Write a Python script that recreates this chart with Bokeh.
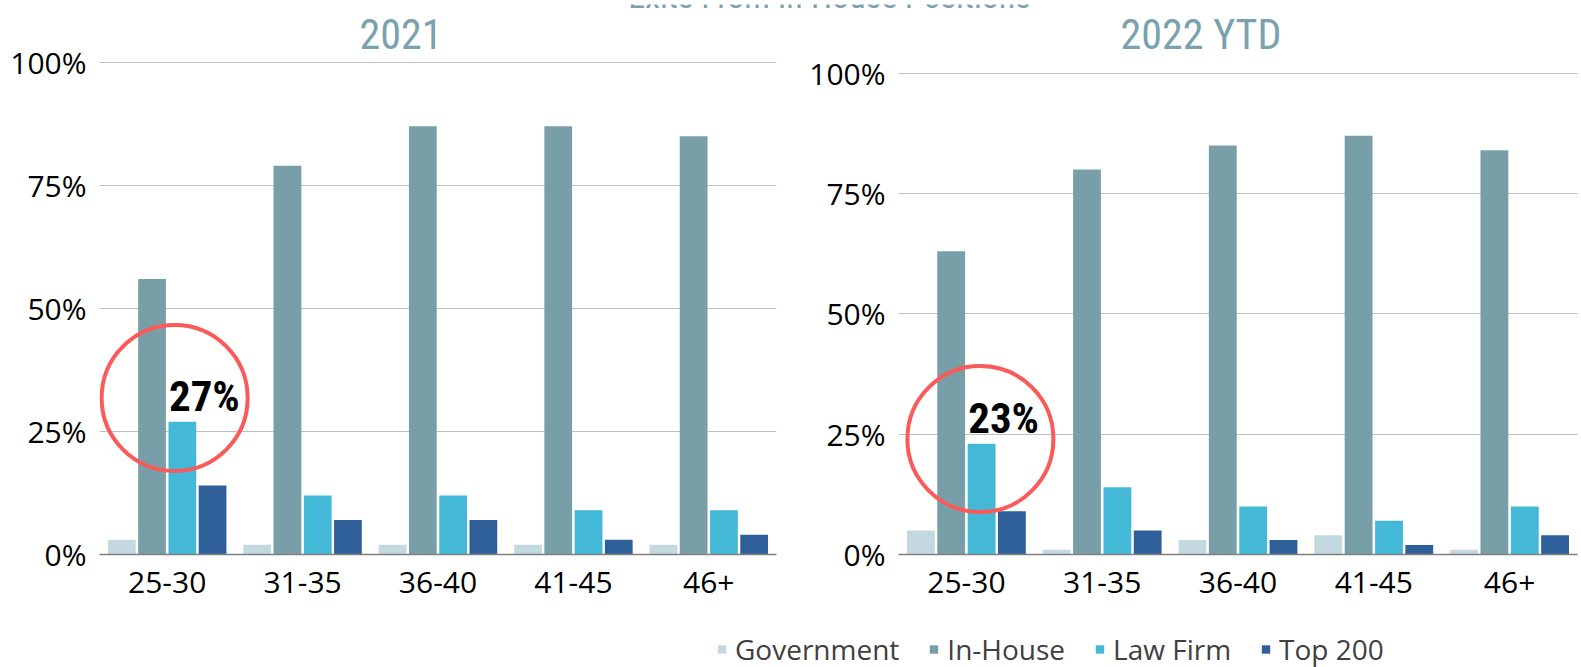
from bokeh.plotting import figure
from bokeh.layouts import column, row
from bokeh.models import (ColumnDataSource, FactorRange, Range1d, FixedTicker,
                          Legend, LegendItem)
from bokeh.transform import dodge
from bokeh.core.properties import value
from bokeh.embed import file_html
from bokeh.resources import INLINE

# ---- data -------------------------------------------------------------
age_groups = ["25-30", "31-35", "36-40", "41-45", "46+"]
series_names = ["Government", "In-House", "Law Firm", "Top 200"]
series_colors = ["#c3d9df", "#789ea8", "#43b8d7", "#2f5f98"]

gov_2021 = [3, 2, 2, 2, 2]
inhouse_2021 = [56, 79, 87, 87, 85]
lawfirm_2021 = [27, 12, 12, 9, 9]
top200_2021 = [14, 7, 7, 3, 4]

gov_2022 = [5, 1, 3, 4, 1]
inhouse_2022 = [63, 80, 85, 87, 84]
lawfirm_2022 = [23, 14, 10, 7, 10]
top200_2022 = [9, 5, 3, 2, 4]

y_ticks = [0, 25, 50, 75, 100]
y_tick_labels = ["0%", "25%", "50%", "75%", "100%"]

main_title = "Exits From In-House Positions"
panel_titles = ["2021", "2022 YTD"]

# ---- styling ----------------------------------------------------------
TICK_FONT = "Open Sans"
TITLE_FONT = "Roboto Condensed"
TITLE_COLOR = "#7aa2ad"
RING_COLOR = "#fa5a5a"
BAR_OFFSETS = [-0.335, -0.112, 0.112, 0.335]
BAR_WIDTH = 0.205
PAGE_W = 1581
HEAD_H = 8
ROW_H = 604
FOOT_H = 55
BASELINE_SHIFT = 0.37   # em, lifts alphabetic-baseline text onto its anchor


def make_panel(title, columns, width, border_left, border_right, y_top, title_y,
               ring_dx, ring_y):
    data = {"age": age_groups}
    for i, vals in enumerate(columns):
        data[f"s{i}"] = vals
    src = ColumnDataSource(data)

    p = figure(x_range=FactorRange(factors=age_groups), y_range=Range1d(0, y_top),
               width=width, height=ROW_H, title=None,
               output_backend="svg", toolbar_location=None,
               min_border_left=border_left, min_border_right=border_right,
               min_border_top=0, min_border_bottom=58)

    for i, color in enumerate(series_colors):
        p.vbar(x=dodge("age", BAR_OFFSETS[i], range=p.x_range), top=f"s{i}",
               width=BAR_WIDTH, source=src, fill_color=color, line_color=None)

    # panel title, sitting above the 100% line
    p.text(x=[age_groups[2]], y=[title_y], text=[title], text_align="center",
           text_baseline="alphabetic", x_offset=-37,
           y_offset=-BASELINE_SHIFT * 42, text_font=value(TITLE_FONT),
           text_font_size="42px", text_color=TITLE_COLOR)

    # callout on the law-firm share of the youngest group
    law = columns[2][0]
    callout = ColumnDataSource(dict(age=[age_groups[0]], val=[law],
                                    label=[f"{law}%"], ring=[ring_y]))
    p.scatter(x=dodge("age", ring_dx, range=p.x_range), y="ring", source=callout,
              marker="circle", size=146, fill_color=None,
              line_color=RING_COLOR, line_width=4)
    p.text(x=dodge("age", BAR_OFFSETS[2], range=p.x_range), y="val", text="label",
           source=callout, text_align="center", text_baseline="alphabetic",
           x_offset=22, y_offset=-10 - BASELINE_SHIFT * 43,
           text_font=value(TITLE_FONT), text_font_style="bold",
           text_font_size="43px", text_color="black")

    xa = p.xaxis[0]
    xa.axis_line_color = "#808080"
    xa.axis_line_width = 1.5
    xa.major_tick_line_color = None
    xa.minor_tick_line_color = None
    xa.major_tick_out = 0
    xa.major_label_standoff = 17
    xa.major_label_text_font = TICK_FONT
    xa.major_label_text_font_size = "30px"
    xa.major_label_text_color = "black"

    ya = p.yaxis[0]
    ya.ticker = FixedTicker(ticks=y_ticks)
    ya.major_label_overrides = dict(zip(y_ticks, y_tick_labels))
    ya.axis_line_color = None
    ya.major_tick_line_color = None
    ya.minor_tick_line_color = None
    ya.major_tick_out = 0
    ya.major_label_standoff = 13
    ya.major_label_text_font = TICK_FONT
    ya.major_label_text_font_size = "30px"
    ya.major_label_text_color = "black"

    p.xgrid.grid_line_color = None
    p.ygrid.ticker = FixedTicker(ticks=y_ticks)
    p.ygrid.grid_line_color = "#bfbfbf"
    p.ygrid.grid_line_width = 1.2
    p.outline_line_color = None
    return p


left = make_panel(panel_titles[0], [gov_2021, inhouse_2021, lawfirm_2021, top200_2021],
                  width=790, border_left=99, border_right=14, y_top=110.95,
                  title_y=102.7, ring_dx=0.055, ring_y=31.8)
right = make_panel(panel_titles[1], [gov_2022, inhouse_2022, lawfirm_2022, top200_2022],
                   width=791, border_left=108, border_right=4, y_top=113.47,
                   title_y=104.8, ring_dx=0.103, ring_y=24.0)

# heading strip: page heading, cut by the top edge of the page
head = figure(width=PAGE_W, height=HEAD_H, x_range=Range1d(0, PAGE_W),
              y_range=Range1d(0, HEAD_H), title=None, output_backend="svg",
              toolbar_location=None, min_border=0,
              x_axis_location=None, y_axis_location=None)
head.grid.visible = False
head.outline_line_color = None
head.text(x=[829], y=[HEAD_H - 4], text=[main_title], text_align="center",
          text_baseline="alphabetic", y_offset=-BASELINE_SHIFT * 34,
          text_font=value(TITLE_FONT), text_font_size="34px",
          text_color=TITLE_COLOR)

# shared legend underneath both panels
foot = figure(width=PAGE_W, height=FOOT_H, x_range=Range1d(0, 1), y_range=Range1d(0, 1),
              title=None, output_backend="svg", toolbar_location=None, min_border=0,
              x_axis_location=None, y_axis_location=None)
foot.grid.visible = False
foot.outline_line_color = None
items = []
for name, color in zip(series_names, series_colors):
    proxy = ColumnDataSource(dict(x=[float("nan")], y=[float("nan")]))
    r = foot.scatter(x="x", y="y", source=proxy, marker="square", size=8,
                     fill_color=color, line_color=None)
    items.append(LegendItem(label=name, renderers=[r]))
legend = Legend(items=items, orientation="horizontal", location=(711, -1),
                glyph_width=21, glyph_height=38, label_standoff=3, spacing=24,
                padding=0, margin=0, border_line_color=None,
                background_fill_alpha=0, label_text_font=TICK_FONT,
                label_text_font_size="28px", label_text_color="#404040")
foot.add_layout(legend)

layout = column(head, row(left, right), foot)
open("out.html", "w").write(file_html(layout, INLINE))
